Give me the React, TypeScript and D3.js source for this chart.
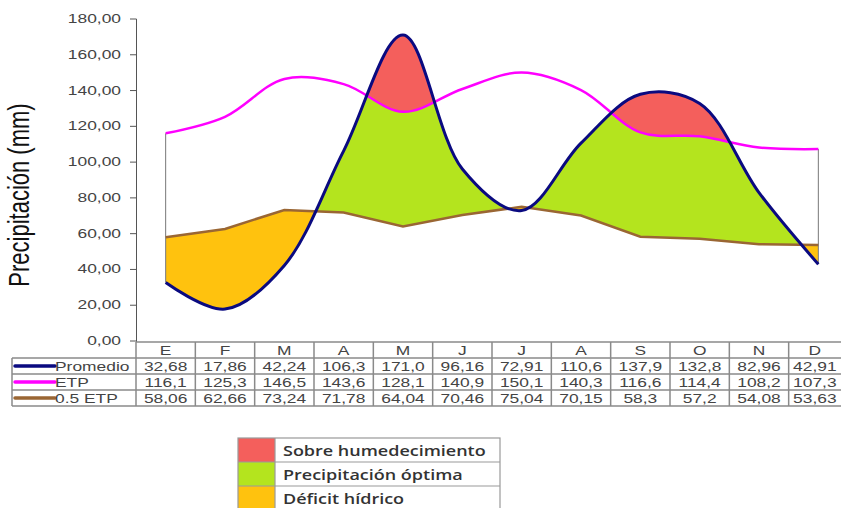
import * as d3 from "d3";

const months = ["E", "F", "M", "A", "M", "J", "J", "A", "S", "O", "N", "D"];
const promedio = [32.68, 17.86, 42.24, 106.3, 171.0, 96.16, 72.91, 110.6, 137.9, 132.8, 82.96, 42.91];
const etp = [116.1, 125.3, 146.5, 143.6, 128.1, 140.9, 150.1, 140.3, 116.6, 114.4, 108.2, 107.3];
const halfEtp = [58.06, 62.66, 73.24, 71.78, 64.04, 70.46, 75.04, 70.15, 58.3, 57.2, 54.08, 53.63];

// table cell text as printed in the source
const promedioText = ["32,68", "17,86", "42,24", "106,3", "171,0", "96,16", "72,91", "110,6", "137,9", "132,8", "82,96", "42,91"];
const etpText = ["116,1", "125,3", "146,5", "143,6", "128,1", "140,9", "150,1", "140,3", "116,6", "114,4", "108,2", "107,3"];
const halfEtpText = ["58,06", "62,66", "73,24", "71,78", "64,04", "70,46", "75,04", "70,15", "58,3", "57,2", "54,08", "53,63"];

const legendItems = [
  { label: "Sobre humedecimiento", color: "#f45f5c" },
  { label: "Precipitación óptima", color: "#b4e41e" },
  { label: "Déficit hídrico", color: "#ffc20e" },
];

const W = 841;
const H = 508;
const SX = 1.45; // source picture is stretched horizontally

export default function App() {
  const idx = d3.range(months.length);
  const x = d3.scaleBand<number>().domain(idx).range([136, 848]);
  const bw = x.bandwidth();
  const cx = (i: number) => (x(i) as number) + bw / 2;
  // table text sits in the middle of the visible part of each cell
  const textX = (i: number) => {
    const x0 = x(i) as number;
    return (x0 + Math.min(x0 + bw, W)) / 2;
  };
  const y = d3.scaleLinear().domain([0, 180]).range([341, 19]);

  const smooth = d3.curveCatmullRom.alpha(0.5);

  const lineSmooth = (vals: number[]) =>
    d3.line<number>().x((_, i) => cx(i)).y(d => y(d)).curve(smooth)(vals) as string;
  const lineStraight = (vals: number[]) =>
    d3.line<number>().x((_, i) => cx(i)).y(d => y(d))(vals) as string;
  const area = (vals: number[], base: number, curve: d3.CurveFactory) =>
    d3
      .area<number>()
      .x((_, i) => cx(i))
      .y0(base)
      .y1(d => y(d))
      .curve(curve)(vals) as string;

  const bottom = y(0);
  const top = 0;

  const tableTop = 342;
  const rowH = 16;
  const rows = [
    { name: "Promedio", color: "#0a0a80", text: promedioText },
    { name: "ETP", color: "#ff00ff", text: etpText },
    { name: "0.5 ETP", color: "#9a6633", text: halfEtpText },
  ];
  const tableBottom = tableTop + rowH * 4;
  const grid = "#8a8a8a";
  const txt = "#444";

  const last = months.length - 1;

  return (
    <svg
      width={W}
      height={H}
      style={{ position: "absolute", left: 0, top: 0, background: "#fff" }}
      fontFamily="'Liberation Sans', Arial, sans-serif"
    >
      <defs>
        <clipPath id="underProm">
          <path d={area(promedio, bottom, smooth)} />
        </clipPath>
        <clipPath id="aboveProm">
          <path d={area(promedio, top, smooth)} />
        </clipPath>
        <clipPath id="underEtp">
          <path d={area(etp, bottom, smooth)} />
        </clipPath>
      </defs>

      {/* deficit */}
      <g clipPath="url(#aboveProm)">
        <path d={area(halfEtp, bottom, d3.curveLinear)} fill="#ffc20e" />
      </g>
      {/* optimum */}
      <g clipPath="url(#underProm)">
        <g clipPath="url(#underEtp)">
          <path d={area(halfEtp, top, d3.curveLinear)} fill="#b4e41e" />
        </g>
      </g>
      {/* surplus */}
      <g clipPath="url(#underProm)">
        <path d={area(etp, top, smooth)} fill="#f45f5c" />
      </g>

      {/* end edges */}
      <line x1={cx(0)} x2={cx(0)} y1={y(etp[0])} y2={y(promedio[0])} stroke="#777" strokeWidth={1} />
      <line x1={cx(last)} x2={cx(last)} y1={y(etp[last])} y2={y(promedio[last])} stroke="#777" strokeWidth={1} />

      <path d={lineStraight(halfEtp)} fill="none" stroke="#9a6633" strokeWidth={2.5} />
      <path d={lineSmooth(etp)} fill="none" stroke="#ff00ff" strokeWidth={2.5} />
      <path d={lineSmooth(promedio)} fill="none" stroke="#0a0a80" strokeWidth={3} />

      {/* y axis */}
      <line x1={136.5} x2={136.5} y1={y(180)} y2={tableTop} stroke="#555" strokeWidth={1} />
      {y.ticks(9).map(t => (
        <g key={t}>
          <line x1={130} x2={136.5} y1={y(t)} y2={y(t)} stroke="#555" />
          <text
            transform={`translate(121,${y(t) + 4}) scale(${SX},1)`}
            textAnchor="end"
            fontSize={12}
            fill={txt}
          >
            {t.toFixed(2).replace(".", ",")}
          </text>
        </g>
      ))}
      <text
        transform={`translate(29,195) scale(1.3,1) rotate(-90)`}
        textAnchor="middle"
        fontSize={22}
        fill="#111"
      >
        Precipitación (mm)
      </text>

      {/* data table */}
      <line x1={136} x2={W} y1={tableTop} y2={tableTop} stroke={grid} strokeWidth={1.5} />
      {[1, 2, 3, 4].map(r => (
        <line key={r} x1={12} x2={W} y1={tableTop + rowH * r} y2={tableTop + rowH * r} stroke={grid} strokeWidth={1.5} />
      ))}
      <line x1={12} x2={12} y1={tableTop + rowH} y2={tableBottom} stroke={grid} strokeWidth={1.5} />
      {idx.map(i => (
        <line key={i} x1={x(i)} x2={x(i)} y1={tableTop} y2={tableBottom} stroke={grid} strokeWidth={1.5} />
      ))}
      {months.map((m, i) => (
        <text
          key={i}
          transform={`translate(${textX(i)},${tableTop + rowH / 2 + 4.5}) scale(${SX},1)`}
          textAnchor="middle"
          fontSize={12}
          fill={txt}
        >
          {m}
        </text>
      ))}
      {rows.map((r, ri) => {
        const yc = tableTop + rowH * (ri + 1) + rowH / 2;
        return (
          <g key={r.name}>
            <line x1={15} x2={55} y1={yc} y2={yc} stroke={r.color} strokeWidth={3.5} strokeLinecap="round" />
            <text transform={`translate(55,${yc + 4.5}) scale(${SX},1)`} fontSize={12} fill={txt}>
              {r.name}
            </text>
            {r.text.map((v, i) => (
              <text
                key={i}
                transform={`translate(${textX(i)},${yc + 4.5}) scale(${SX},1)`}
                textAnchor="middle"
                fontSize={12}
                fill={txt}
              >
                {v}
              </text>
            ))}
          </g>
        );
      })}

      {/* legend */}
      <g>
        {legendItems.map((d, i) => (
          <g key={d.label}>
            <rect x={238} y={438 + i * 24} width={37} height={24} fill={d.color} />
            <text
              transform={`translate(283,${438 + i * 24 + 17.5}) scale(1.2,1)`}
              fontSize={15}
              fontWeight={600}
              fill="#333"
              fontFamily="'Open Sans', sans-serif"
            >
              {d.label}
            </text>
          </g>
        ))}
        <rect x={238} y={438} width={262} height={72} fill="none" stroke="#999" strokeWidth={1.2} />
        {[1, 2].map(i => (
          <line key={i} x1={238} x2={500} y1={438 + i * 24} y2={438 + i * 24} stroke="#999" strokeWidth={1.2} />
        ))}
        <line x1={275} x2={275} y1={438} y2={510} stroke="#999" strokeWidth={1.2} />
      </g>
    </svg>
  );
}
